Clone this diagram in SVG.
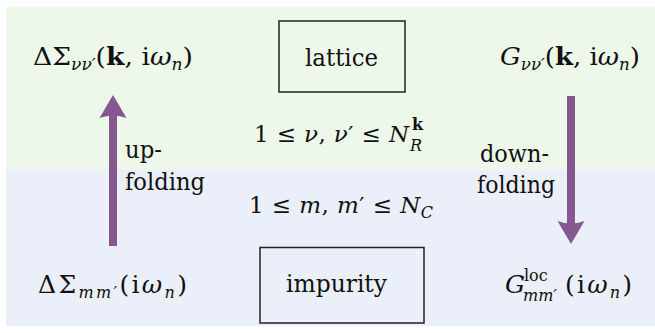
<svg xmlns="http://www.w3.org/2000/svg" width="655" height="333" viewBox="0 0 655 333">
<style>
text{font-family:"DejaVu Serif","Liberation Serif",serif;font-size:25px;fill:#111}
.r{font-size:23px}
.it{font-style:italic}
.b{font-weight:bold}
.s{font-size:16px}
.box{fill:none;stroke:#222;stroke-width:1.5}
.arr{fill:#86588f;stroke:none}
</style>
<rect x="6" y="7" width="649" height="163" fill="#eef8ea"/>
<rect x="6" y="170" width="649" height="156" fill="#ebeff9"/>
<g id="lattice">
<rect class="box" x="279" y="21" width="126" height="71"/>
<text x="305" y="66" textLength="73" lengthAdjust="spacingAndGlyphs">lattice</text>
</g>
<g id="impurity">
<rect class="box" x="260" y="247.5" width="164" height="75.5"/>
<text x="286" y="292" textLength="101" lengthAdjust="spacingAndGlyphs">impurity</text>
</g>
<g id="sigma-lattice">
<text x="33" y="65" textLength="160" lengthAdjust="spacingAndGlyphs">ΔΣ<tspan class="it s" dy="5">νν′</tspan><tspan dy="-5">(</tspan><tspan class="b">k</tspan>, i<tspan class="it">ω</tspan><tspan class="it s" dy="5">n</tspan><tspan dy="-5">)</tspan></text>
</g>
<g id="g-lattice">
<text x="500" y="65" textLength="140" lengthAdjust="spacingAndGlyphs"><tspan class="it">G</tspan><tspan class="it s" dy="5">νν′</tspan><tspan dy="-5">(</tspan><tspan class="b">k</tspan>, i<tspan class="it">ω</tspan><tspan class="it s" dy="5">n</tspan><tspan dy="-5">)</tspan></text>
</g>
<g id="sigma-imp">
<text x="38" y="293" textLength="149" lengthAdjust="spacing">ΔΣ<tspan class="it s" dy="5">mm′</tspan><tspan dy="-5">(i</tspan><tspan class="it">ω</tspan><tspan class="it s" dy="5">n</tspan><tspan dy="-5">)</tspan></text>
</g>
<g id="g-imp">
<text x="505" y="293" class="it">G</text>
<text x="524" y="281" class="s">loc</text>
<text x="523" y="301" class="it s">mm′</text>
<text x="565" y="293" textLength="67" lengthAdjust="spacing">(i<tspan class="it">ω</tspan><tspan class="it s" dy="5">n</tspan><tspan dy="-5">)</tspan></text>
</g>
<g id="range-lattice">
<text x="254" y="142" class="r" textLength="155" lengthAdjust="spacing">1 ≤ <tspan class="it">ν</tspan>, <tspan class="it">ν</tspan>′ ≤ <tspan class="it">N</tspan></text>
<text x="412" y="130" class="s b">k</text>
<text x="410" y="151" class="it s">R</text>
</g>
<g id="range-imp">
<text x="249" y="213" class="r" textLength="184" lengthAdjust="spacing">1 ≤ <tspan class="it">m</tspan>, <tspan class="it">m</tspan>′ ≤ <tspan class="it">N</tspan><tspan class="it s" dy="5">C</tspan></text>
</g>
<g id="labels">
<text x="125" y="158" textLength="37" lengthAdjust="spacingAndGlyphs">up-</text>
<text x="125" y="190" textLength="80" lengthAdjust="spacingAndGlyphs">folding</text>
<text x="480" y="162" textLength="69" lengthAdjust="spacingAndGlyphs">down-</text>
<text x="477" y="193" textLength="78" lengthAdjust="spacingAndGlyphs">folding</text>
</g>
<g id="connectors">
<rect class="arr" x="109" y="114" width="8" height="132"/>
<path class="arr" d="M113,95 L126.5,118 Q113,113 99.5,118 Z"/>
<rect class="arr" x="567" y="96" width="8" height="130"/>
<path class="arr" d="M571,244 L584.5,221 Q571,226 557.5,221 Z"/>
</g>
</svg>
